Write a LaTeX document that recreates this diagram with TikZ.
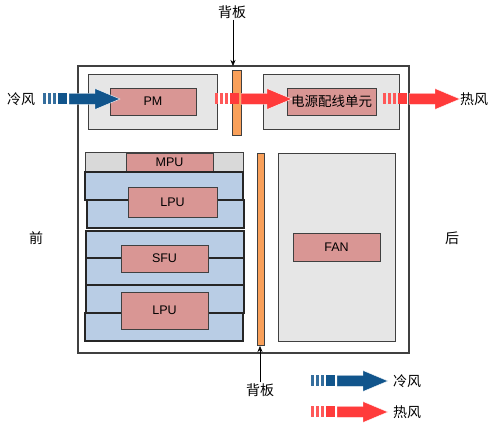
\documentclass[tikz,border=0pt]{standalone}
\usepackage{fontspec}
\setmainfont{Liberation Sans}
\newfontfamily\cjk{Noto Sans CJK SC}
\usetikzlibrary{positioning,arrows.meta}
\definecolor{edge}{RGB}{64,64,64}
\definecolor{slotgray}{RGB}{230,230,230}
\definecolor{sidegray}{RGB}{217,217,217}
\definecolor{cardpink}{RGB}{217,150,148}
\definecolor{boardblue}{RGB}{185,205,229}
\definecolor{planeorange}{RGB}{249,160,90}
\definecolor{coldblue}{RGB}{17,85,140}
\definecolor{hotred}{RGB}{255,59,59}
\tikzset{line/.style={draw, thin, -{Stealth[length=6pt,width=5pt]}}}
\tikzset{pics/airflow/.style={code={
  \foreach \s in {0,5,10} \fill[#1!85!white] (\s,-5.5) rectangle ++(2.5,11);
  \fill[#1] (15,-5.5) rectangle (24,5.5);
  \filldraw[fill=#1, draw=white, line width=0.4pt] (26,-5.5) -- (52,-5.5) -- (52,-10.5) -- (77,0) -- (52,10.5) -- (52,5.5) -- (26,5.5) -- cycle;
}}}

\begin{document}
\begin{tikzpicture}[x=1pt, y=-1pt]
\tikzstyle{box} = [rectangle, draw=edge, line width=0.8pt, inner sep=0pt, outer sep=0pt, anchor=north west]
\tikzstyle{slot} = [box, fill=slotgray]
\tikzstyle{board} = [box, fill=boardblue, draw=black!85, line width=1.3pt]
\tikzstyle{plane} = [box, fill=planeorange]
\tikzstyle{card} = [box, fill=cardpink, font=\fontsize{12.5}{14}\selectfont]
\tikzstyle{tag} = [inner sep=1pt, font=\cjk\fontsize{14}{16}\selectfont]

\useasboundingbox (0,0) rectangle (496,427);

\node [box, fill=white, line width=1.2pt, minimum width=331pt, minimum height=287pt](chassis) at (78,66) {};

% top row
\node [slot, minimum width=129pt, minimum height=55pt](pmslot) at (88,74) {};
\node [card, minimum width=86pt, minimum height=27pt](pm) at (110,88) {PM};
\node [plane, minimum width=9pt, minimum height=65pt](bpup) at (232,70) {};
\node [slot, minimum width=136pt, minimum height=55pt](pduslot) at (263,74) {};
\node [card, minimum width=89pt, minimum height=27pt, font=\cjk\fontsize{13.5}{15}\selectfont](pdu) at (287,88) {电源配线单元};

% boards
\node [box, fill=sidegray, line width=1pt, minimum width=158pt, minimum height=19pt](mpuslot) at (85,153) {};
\node [card, minimum width=87pt, minimum height=19pt](mpu) at (126,153) {MPU};
\node [board, minimum width=158pt, minimum height=28pt](lpuatop) at (85,172) {};
\node [board, minimum width=157pt, minimum height=28pt](lpuabot) at (87,200) {};
\node [card, minimum width=89pt, minimum height=30pt](lpua) at (128,187) {LPU};
\node [board, minimum width=158pt, minimum height=27pt](sfutop) at (86,231) {};
\node [board, minimum width=158pt, minimum height=27pt](sfubot) at (86,258) {};
\node [card, minimum width=87pt, minimum height=27pt](sfu) at (121,245) {SFU};
\node [board, minimum width=158pt, minimum height=28pt](lpubtop) at (86,285) {};
\node [board, minimum width=158pt, minimum height=28pt](lpubbot) at (85,313) {};
\node [card, minimum width=87pt, minimum height=37pt](lpub) at (121,292) {LPU};

\node [plane, minimum width=7pt, minimum height=192pt](bpdown) at (257,153) {};
\node [slot, minimum width=117pt, minimum height=188pt](fanslot) at (278,153) {};
\node [card, minimum width=87pt, minimum height=28pt](fan) at (293,233) {FAN};

% airflow
\pic at (43,99) {airflow=coldblue};
\pic at (215,99) {airflow=hotred};
\pic at (383,99) {airflow=hotred};
\pic at (311,381) {airflow=coldblue};
\pic at (311,412) {airflow=hotred};

\node [tag](coldin) at (21,99) {冷风};
\node [tag](hotout) at (474,99) {热风};
\node [tag](coldkey) at (407,381) {冷风};
\node [tag](hotkey) at (407,412) {热风};
\node [tag](front) at (36,238) {前};
\node [tag](rear) at (452,238) {后};

\node [tag](bpuptag) at (232,12) {背板};
\node [tag](bpdowntag) at (260,390) {背板};
\coordinate (bpupend) at (233,66);
\coordinate (bpdownend) at (260,346);

\path [line] (bpuptag.south -| bpupend) -- (bpupend);
\path [line] (bpdowntag.north -| bpdownend) -- (bpdownend);

\end{tikzpicture}
\end{document}
